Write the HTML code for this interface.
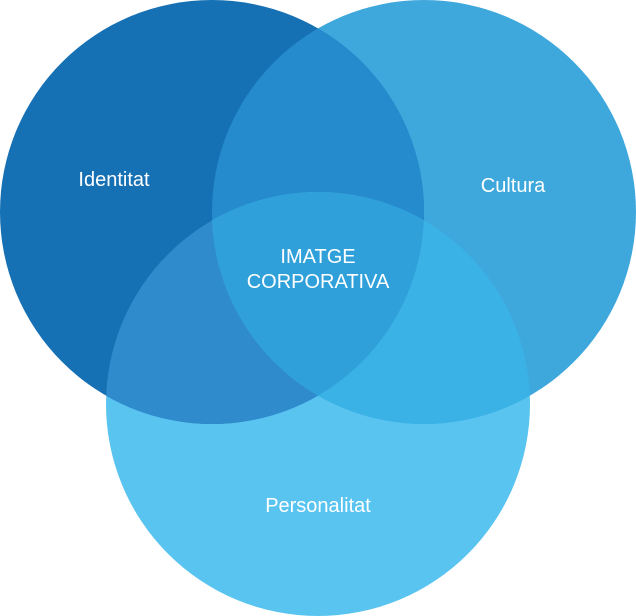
<!DOCTYPE html>
<html><head><style>html,body{margin:0;padding:0;background:#fff}svg{display:block}</style></head>
<body>
<svg width="636" height="616" viewBox="0 0 636 616" xmlns="http://www.w3.org/2000/svg">
<defs>
<clipPath id="cL"><circle cx="212" cy="212" r="212"/></clipPath>
<clipPath id="cR"><circle cx="424" cy="212" r="212"/></clipPath>
</defs>
<circle cx="318" cy="404" r="212" fill="#59c4f0"/>
<circle cx="424" cy="212" r="212" fill="#3ea8dd"/>
<circle cx="212" cy="212" r="212" fill="#1570b4"/>
<g clip-path="url(#cL)"><circle cx="424" cy="212" r="212" fill="#258bcd"/></g>
<g clip-path="url(#cL)"><circle cx="318" cy="404" r="212" fill="#2f8bcc"/></g>
<g clip-path="url(#cR)"><circle cx="318" cy="404" r="212" fill="#3bb2e6"/></g>
<g clip-path="url(#cL)"><g clip-path="url(#cR)"><circle cx="318" cy="404" r="212" fill="#30a0da"/></g></g>
<g font-family="Liberation Sans, sans-serif" font-size="20" fill="#fff" text-anchor="middle">
<text x="114" y="186">Identitat</text>
<text x="513" y="192">Cultura</text>
<text x="318" y="263">IMATGE</text>
<text x="318" y="288">CORPORATIVA</text>
<text x="318" y="512">Personalitat</text>
</g>
</svg>
</body></html>
